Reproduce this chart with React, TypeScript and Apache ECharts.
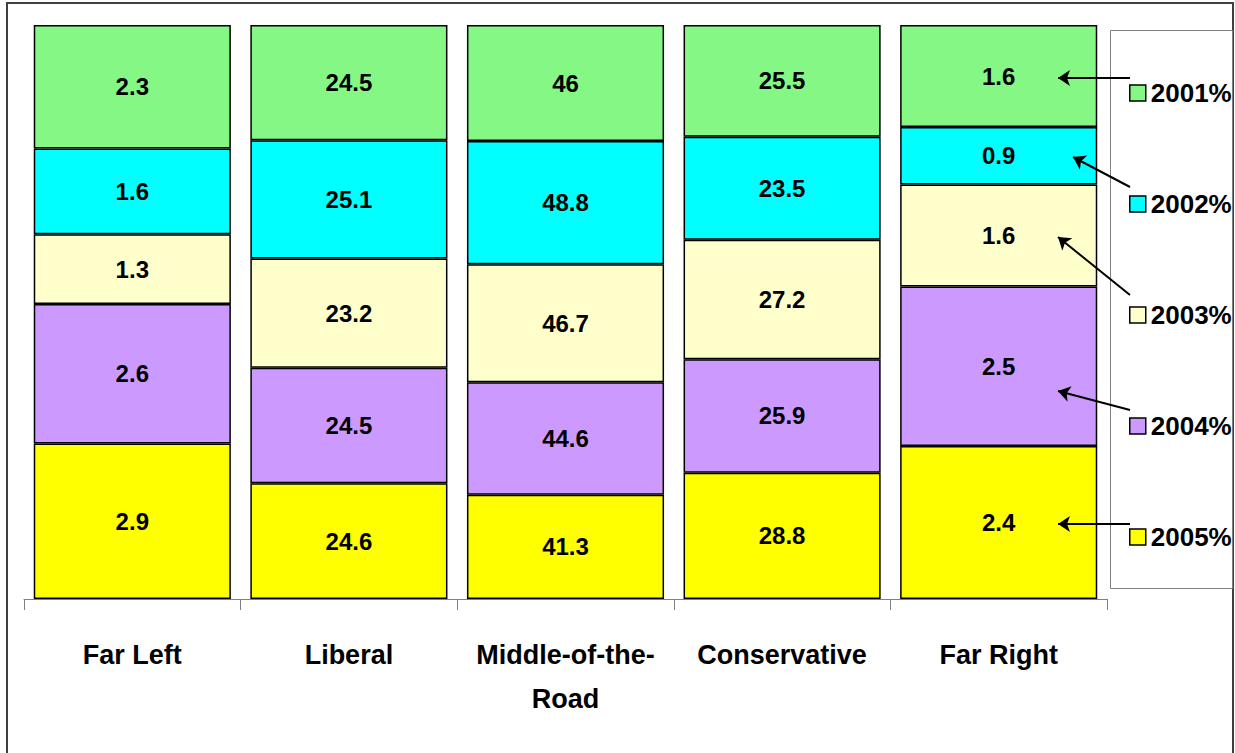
import React, { useEffect, useRef } from "react";
import * as echarts from "echarts";

const categories = ["Far Left", "Liberal", "Middle-of-the-Road", "Conservative", "Far Right"];
const years = ["2001%", "2002%", "2003%", "2004%", "2005%"];
const v2001 = [2.3, 24.5, 46, 25.5, 1.6];
const v2002 = [1.6, 25.1, 48.8, 23.5, 0.9];
const v2003 = [1.3, 23.2, 46.7, 27.2, 1.6];
const v2004 = [2.6, 24.5, 44.6, 25.9, 2.5];
const v2005 = [2.9, 24.6, 41.3, 28.8, 2.4];

const FONT = '"Liberation Sans", Arial, sans-serif';

export default function App() {
  const ref = useRef<HTMLDivElement>(null);
  useEffect(() => {
    if (!ref.current) return;
    const chart = echarts.init(ref.current, undefined, { renderer: "svg" });
    const totals = categories.map((_, i) => v2001[i] + v2002[i] + v2003[i] + v2004[i] + v2005[i]);
    const defs = [
      { name: "2005%", vals: v2005, color: "#ffff00" },
      { name: "2004%", vals: v2004, color: "#cc99ff" },
      { name: "2003%", vals: v2003, color: "#ffffcc" },
      { name: "2002%", vals: v2002, color: "#00ffff" },
      { name: "2001%", vals: v2001, color: "#84f784" },
    ];
    const series: any[] = defs.map((d) => ({
      name: d.name,
      type: "bar",
      stack: "total",
      barCategoryGap: "9%",
      data: d.vals.map((v, i) => ({ value: (v / totals[i]) * 100, raw: v })),
      itemStyle: { color: d.color, borderColor: "#000", borderWidth: 1.5 },
      label: {
        show: true,
        position: "inside",
        formatter: (p: any) => String(p.data.raw),
        color: "#000",
        fontSize: 24,
        fontWeight: "bold",
        fontFamily: FONT,
      },
      emphasis: { disabled: true },
    }));
    series[4].markLine = {
      silent: true,
      symbol: ["none", "arrow"],
      symbolSize: 12,
      label: { show: false },
      lineStyle: { color: "#000", width: 2, type: "solid" },
      emphasis: { disabled: true },
      data: [
        [{ x: 1130, y: 78 }, { x: 1058, y: 78 }],
        [{ x: 1130, y: 187 }, { x: 1073, y: 157 }],
        [{ x: 1130, y: 295 }, { x: 1058, y: 237 }],
        [{ x: 1130, y: 410 }, { x: 1058, y: 391 }],
        [{ x: 1130, y: 524 }, { x: 1058, y: 524 }],
      ],
    };
    chart.setOption({
      animation: false,
      backgroundColor: "#ffffff",
      grid: { left: 24, right: 128, top: 25, bottom: 154, containLabel: false },
      xAxis: {
        type: "category",
        data: categories,
        axisLine: { lineStyle: { color: "#808080", width: 1 } },
        axisTick: { show: true, length: 11, lineStyle: { color: "#808080" } },
        axisLabel: {
          interval: 0,
          margin: 34,
          color: "#000",
          fontSize: 27,
          fontWeight: "bold",
          fontFamily: FONT,
          lineHeight: 44,
          formatter: (v: string) => (v === "Middle-of-the-Road" ? "Middle-of-the-\nRoad" : v),
        },
      },
      yAxis: { type: "value", min: 0, max: 100, show: false },
      legend: {
        orient: "vertical",
        left: 1124,
        top: 73,
        data: years,
        icon: "rect",
        itemWidth: 16,
        itemHeight: 16,
        itemGap: 81,
        selectedMode: false,
        itemStyle: { borderColor: "#000", borderWidth: 1.5 },
        textStyle: { color: "#000", fontSize: 26, fontWeight: "bold", fontFamily: FONT, lineHeight: 30 },
      },
      graphic: [
        {
          type: "rect",
          shape: { x: 7, y: 3, width: 1226, height: 770 },
          style: { fill: "none", stroke: "#404040", lineWidth: 2 },
          silent: true,
        },
        {
          type: "rect",
          shape: { x: 1110.5, y: 30.5, width: 122, height: 558 },
          style: { fill: "none", stroke: "#808080", lineWidth: 1 },
          silent: true,
        },
      ],
      series,
    });
    return () => chart.dispose();
  }, []);
  return <div ref={ref} style={{ position: "absolute", left: 0, top: 0, width: 1235, height: 753 }} />;
}
